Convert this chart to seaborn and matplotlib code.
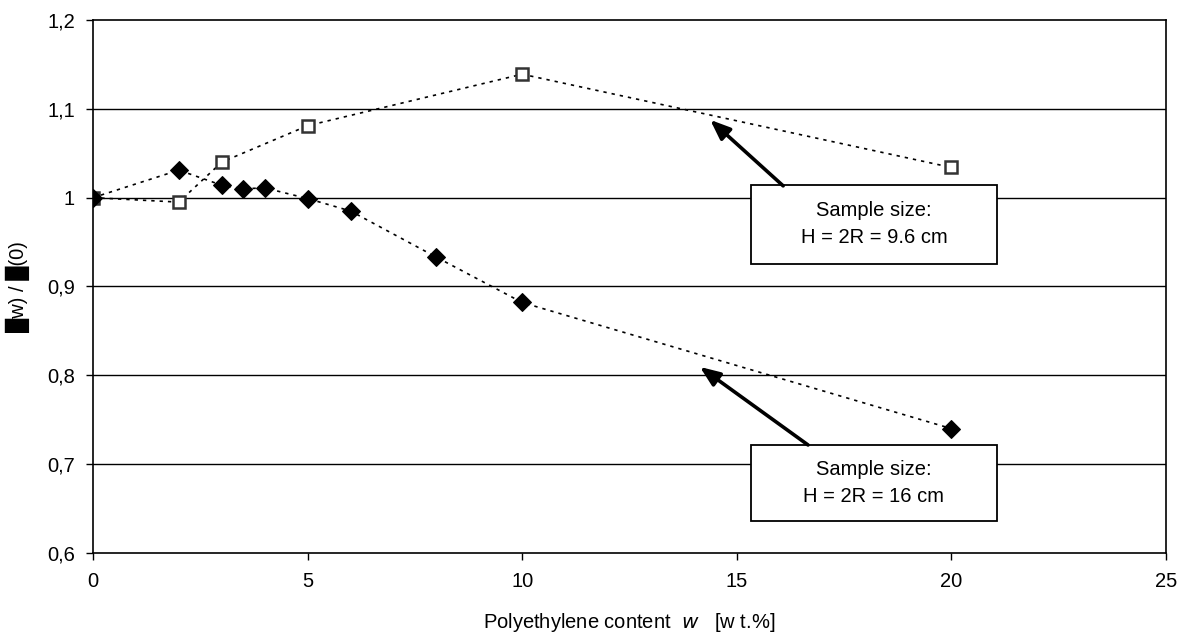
import matplotlib
matplotlib.use("Agg")
import matplotlib.pyplot as plt
from matplotlib.patches import Rectangle
import seaborn as sns
import pandas as pd

# Data
w_small = [0, 2, 3, 5, 10, 20]
ratio_small = [1.0, 0.995, 1.040, 1.081, 1.139, 1.034]   # H = 2R = 9.6 cm (open squares)

w_large = [0, 2, 3, 3.5, 4, 5, 6, 8, 10, 20]
ratio_large = [1.0, 1.031, 1.014, 1.010, 1.011, 0.999, 0.985, 0.933, 0.882, 0.740]  # H = 2R = 16 cm (diamonds)

y_ticks = [0.6, 0.7, 0.8, 0.9, 1.0, 1.1, 1.2]
y_tick_labels = ["0,6", "0,7", "0,8", "0,9", "1", "1,1", "1,2"]
x_ticks = [0, 5, 10, 15, 20, 25]

sns.set_theme(style="white")
plt.rcParams['font.family'] = ['Liberation Sans', 'DejaVu Sans']

FS = 14.5

fig = plt.figure(figsize=(11.87, 6.39), dpi=100)
ax = fig.add_axes([93/1187, 1 - 553/639, (1166-93)/1187, (553-20)/639])

df_s = pd.DataFrame({"w": w_small, "r": ratio_small})
df_l = pd.DataFrame({"w": w_large, "r": ratio_large})

sns.lineplot(data=df_s, x="w", y="r", ax=ax, color="black", linestyle=(0, (2, 3)),
             linewidth=1.2, marker="s", markersize=8, markerfacecolor="white",
             markeredgecolor="#333333", markeredgewidth=1.8, zorder=3)
sns.lineplot(data=df_l, x="w", y="r", ax=ax, color="black", linestyle=(0, (2, 3)),
             linewidth=1.2, marker="D", markersize=9, markerfacecolor="black",
             markeredgecolor="black", zorder=4)

ax.set_xlim(0, 25)
ax.set_ylim(0.6, 1.2)
ax.set_xticks(x_ticks)
ax.set_xticklabels([str(t) for t in x_ticks])
ax.set_yticks(y_ticks)
ax.set_yticklabels(y_tick_labels)

for y in y_ticks[1:-1]:
    ax.axhline(y, color="black", linewidth=1.0, zorder=1)

for s in ax.spines.values():
    s.set_color("black")
    s.set_linewidth(1.2)
    s.set_visible(True)

ax.tick_params(axis="both", direction="out", length=5, width=1, color="black",
               labelsize=FS, labelcolor="black", bottom=True, left=True)
ax.tick_params(axis="x", pad=9)
ax.tick_params(axis="y", pad=8)

ax.set_xlabel("Polyethylene content  $\\it{w}$   [w t.%]", fontsize=FS, color="black", labelpad=14)
ax.set_ylabel("\u2588w) / \u2588(0)", fontsize=FS, color="black", labelpad=12)

def callout(x0, x1, y0, y1, text, tail, head):
    ax.add_patch(Rectangle((x0, y0), x1 - x0, y1 - y0, facecolor="white",
                           edgecolor="black", linewidth=1.3, zorder=6))
    ax.text((x0 + x1) / 2, (y0 + y1) / 2, text, ha="center", va="center",
            fontsize=FS, linespacing=1.55, color="black", zorder=7)
    ax.annotate("", xy=head, xytext=tail,
                arrowprops=dict(arrowstyle="-|>,head_length=1.0,head_width=0.4",
                                color="black", linewidth=2.6, shrinkA=0, shrinkB=0),
                zorder=6)

callout(15.33, 21.06, 0.9255, 1.0144, "Sample size:\nH = 2R = 9.6 cm",
        tail=(16.08, 1.0133), head=(14.38, 1.0876))
callout(15.33, 21.06, 0.636, 0.7216, "Sample size:\nH = 2R = 16 cm",
        tail=(16.66, 0.7216), head=(14.14, 0.8095))

fig.savefig("out.png", dpi=100)
